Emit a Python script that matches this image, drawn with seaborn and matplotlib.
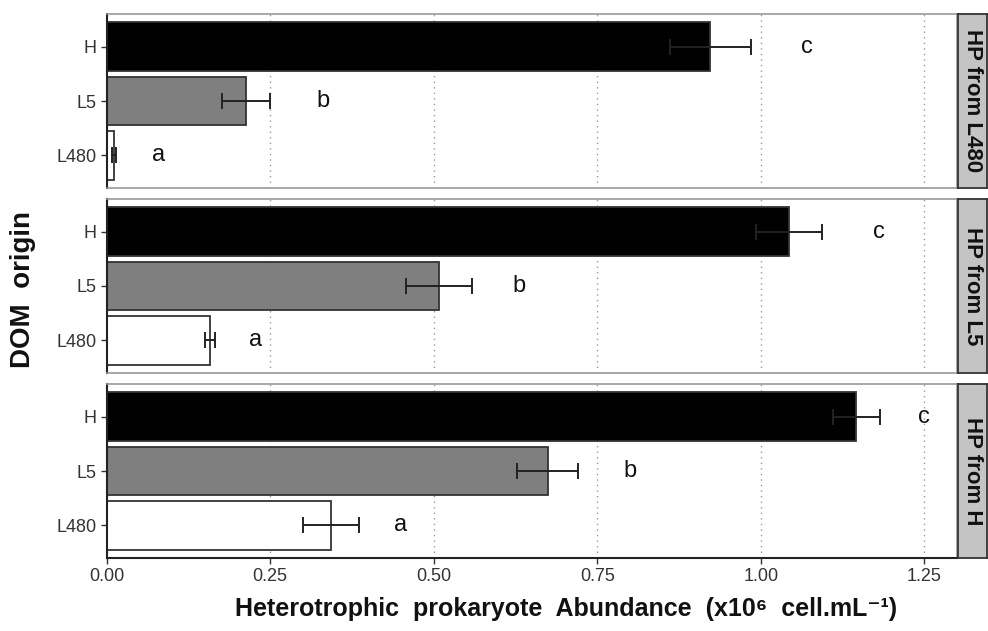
import numpy as np
import pandas as pd
import matplotlib
matplotlib.use("Agg")
import matplotlib.pyplot as plt
import seaborn as sns

sns.set_theme(style="white")
plt.rcParams["font.family"] = ["Liberation Sans", "DejaVu Sans"]

# DOM origin categories and the three prokaryote sources (facets)
dom_origin = ["H", "L5", "L480"]
panels = ["HP from L480", "HP from L5", "HP from H"]

# Mean abundance (x10^6 cell/mL) per panel, in dom_origin order
abund_l480 = [0.923, 0.213, 0.011]
abund_l5 = [1.043, 0.508, 0.158]
abund_h = [1.146, 0.674, 0.343]

# Standard errors
err_l480 = [0.062, 0.036, 0.003]
err_l5 = [0.050, 0.050, 0.008]
err_h = [0.036, 0.046, 0.043]

# Significance letters and their x positions
letters = ["c", "b", "a"]
letter_x_l480 = [1.07, 0.33, 0.08]
letter_x_l5 = [1.18, 0.63, 0.228]
letter_x_h = [1.25, 0.80, 0.45]

means = [abund_l480, abund_l5, abund_h]
errs = [err_l480, err_l5, err_h]
letter_xs = [letter_x_l480, letter_x_l5, letter_x_h]

bar_colors = {"H": "#000000", "L5": "#7f7f7f", "L480": "#ffffff"}

W, H = 988, 631
fig = plt.figure(figsize=(W / 100, H / 100), dpi=100)

left_px, right_px = 106.7, 957
strip_l, strip_r = 958, 987
panel_tops = [14, 199, 384]
panel_h = 174

for i, panel in enumerate(panels):
    top = panel_tops[i]
    ax = fig.add_axes([left_px / W, 1 - (top + panel_h) / H,
                       (right_px - left_px) / W, panel_h / H])
    df = pd.DataFrame({"origin": dom_origin, "abundance": means[i]})
    sns.barplot(data=df, x="abundance", y="origin", hue="origin",
                order=dom_origin, hue_order=dom_origin, palette=bar_colors,
                orient="h", width=0.9, edgecolor="#333333", linewidth=1.3,
                legend=False, ax=ax, zorder=2)
    ax.errorbar(means[i], np.arange(len(dom_origin)), xerr=errs[i],
                fmt="none", ecolor="#222222", elinewidth=1.4,
                capsize=5.5, capthick=1.4, zorder=3)
    for j, lab in enumerate(letters):
        ax.text(letter_xs[i][j], j, lab, fontsize=17, ha="center",
                va="center", color="#111111")

    ax.set_xlim(0, 1.3)
    ax.set_ylim(2.6, -0.6)
    ax.set_xticks([0, 0.25, 0.5, 0.75, 1.0, 1.25])
    ax.xaxis.grid(True, linestyle=(0, (1, 3)), color="#999999", linewidth=1.0)
    ax.set_axisbelow(True)
    ax.set_ylabel("")
    ax.set_xlabel("")
    ax.tick_params(axis="y", length=4, width=1, color="#333333",
                   labelsize=13, labelcolor="#333333", pad=3, left=True)
    for s in ["top", "right"]:
        ax.spines[s].set_color("#999999")
        ax.spines[s].set_linewidth(1.2)
    ax.spines["left"].set_color("#222222")
    ax.spines["left"].set_linewidth(1.5)
    if i < 2:
        ax.spines["bottom"].set_color("#999999")
        ax.spines["bottom"].set_linewidth(1.2)
        ax.tick_params(axis="x", labelbottom=False, bottom=False)
    else:
        ax.spines["bottom"].set_color("#222222")
        ax.spines["bottom"].set_linewidth(1.5)
        ax.tick_params(axis="x", length=4, width=1, color="#333333",
                       labelsize=13, labelcolor="#333333", bottom=True)
        ax.set_xticklabels(["0.00", "0.25", "0.50", "0.75", "1.00", "1.25"])

    # facet strip on the right
    sax = fig.add_axes([strip_l / W, 1 - (top + panel_h) / H,
                        (strip_r - strip_l) / W, panel_h / H])
    sax.set_facecolor("#c4c4c4")
    sax.set_xticks([])
    sax.set_yticks([])
    for s in sax.spines.values():
        s.set_color("#333333")
        s.set_linewidth(1.3)
        s.set_visible(True)
    sax.text(0.5, 0.5, panel, rotation=270, ha="center", va="center",
             fontsize=16, fontweight="bold", color="#111111",
             transform=sax.transAxes)

fig.text(23 / W, 1 - 290 / H, "DOM  origin", rotation=90, ha="center",
         va="center", fontsize=20, fontweight="bold", color="#111111")
fig.text(566 / W, 1 - 609 / H,
         "Heterotrophic  prokaryote  Abundance  (x10\u2076  cell.mL\u207b\u00b9)",
         ha="center", va="center", fontsize=18, fontweight="bold",
         color="#111111")

fig.savefig("out.png", dpi=100, facecolor="white")
